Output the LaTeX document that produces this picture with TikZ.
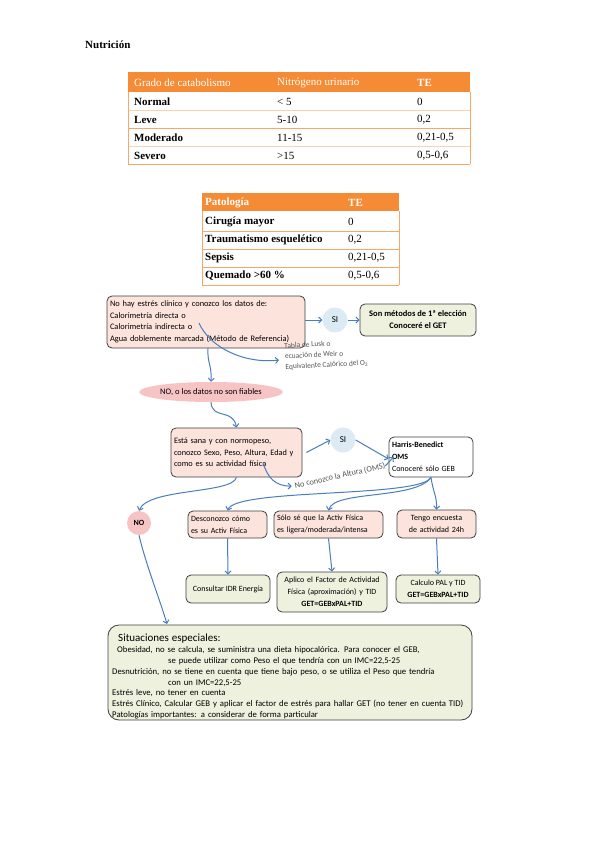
\documentclass[tikz,border=0pt]{standalone}
\usepackage{fontspec}
\setmainfont{Liberation Serif}
\newfontfamily\calfont{Carlito}
\usetikzlibrary{arrows.meta,shapes.geometric}
\definecolor{orangeH}{HTML}{F68B35}
\definecolor{orangeL}{HTML}{F7A766}
\definecolor{orangeF}{HTML}{FBD2B0}
\definecolor{pinkbox}{HTML}{FCE4DC}
\definecolor{pinkoval}{HTML}{F7C4C6}
\definecolor{sibg}{HTML}{DCEAF4}
\definecolor{greenbox}{HTML}{EEF1DD}
\definecolor{arrowblue}{HTML}{4A7EBB}
\definecolor{boxline}{HTML}{3F3F3F}
\definecolor{lblgray}{HTML}{555555}
\begin{document}
\begin{tikzpicture}[x=1pt,y=-1pt,
  tcell/.style={anchor=west, inner sep=0pt, font=\fontsize{11}{13}\selectfont},
  tbold/.style={tcell, font=\bfseries\fontsize{11}{13}\selectfont},
  thead/.style={tcell, text=white},
  flow/.style={draw=boxline, line width=0.8pt, rounded corners=5pt, inner sep=3pt,
    font=\calfont\fontsize{8}{12}\selectfont},
  sicirc/.style={circle, fill=sibg, minimum size=25pt, inner sep=0pt, font=\calfont\fontsize{9}{10}\selectfont},
  nocirc/.style={circle, fill=pinkoval, minimum size=24pt, inner sep=0pt, font=\calfont\bfseries\fontsize{8}{10}\selectfont},
  lbl/.style={inner sep=0pt, text=lblgray, font=\calfont\fontsize{7.5}{9.5}\selectfont},
  arr/.style={draw=arrowblue, line width=1pt, -{Straight Barb[length=3pt,width=6pt]}}]
\useasboundingbox[fill=white] (0,0) rectangle (599,848);

\node[anchor=west, inner sep=0pt, font=\bfseries\fontsize{11}{13}\selectfont] (title) at (85,45) {Nutrición};

% table 1
\fill[orangeH] (128,72) rectangle (470,92);
\draw[orangeF, line width=0.7pt] (128,110) -- (470,110) (128,146) -- (470,146);
\draw[orangeL, line width=0.7pt] (128,128) -- (470,128) (128,164) -- (470,164);
\draw[orangeL, line width=0.6pt] (128,92) -- (128,164) (470,92) -- (470,164);
\node[thead] (h11) at (134,83) {Grado de catabolismo};
\node[thead] (h12) at (277,83) {Nitrógeno urinario};
\node[thead, font=\bfseries\fontsize{11}{13}\selectfont] (h13) at (417,83) {TE};
\node[tbold] (r11) at (134,102) {Normal};
\node[tcell] (r12) at (277,102) {< 5};
\node[tcell] (r13) at (417,102) {0};
\node[tbold] (r21) at (134,120) {Leve};
\node[tcell] (r22) at (277,120) {5-10};
\node[tcell] (r23) at (417,120) {0,2};
\node[tbold] (r31) at (134,138) {Moderado};
\node[tcell] (r32) at (277,138) {11-15};
\node[tcell] (r33) at (417,138) {0,21-0,5};
\node[tbold] (r41) at (134,156) {Severo};
\node[tcell] (r42) at (277,156) {>15};
\node[tcell] (r43) at (417,156) {0,5-0,6};

% table 2
\fill[orangeH] (202,193) rectangle (399,211);
\draw[orangeL, line width=0.7pt] (202,231) -- (399,231) (202,249) -- (399,249) (202,267) -- (399,267) (202,285) -- (399,285);
\draw[orangeL, line width=0.6pt] (202,211) -- (202,285) (399,211) -- (399,285);
\node[thead, font=\bfseries\fontsize{11}{13}\selectfont] (p0) at (205,203) {Patología};
\node[thead, font=\bfseries\fontsize{11}{13}\selectfont] (p0v) at (348,203) {TE};
\node[tbold] (p1) at (205,222) {Cirugía mayor};
\node[tcell] (p1v) at (348,222) {0};
\node[tbold] (p2) at (205,240) {Traumatismo esquelético};
\node[tcell] (p2v) at (348,240) {0,2};
\node[tbold] (p3) at (205,258) {Sepsis};
\node[tcell] (p3v) at (348,258) {0,21-0,5};
\node[tbold] (p4) at (205,276) {Quemado >60 \%};
\node[tcell] (p4v) at (348,276) {0,5-0,6};

% flowchart
\node[flow, fill=pinkbox, minimum width=198pt, minimum height=52pt, text width=192pt, align=left,
  font=\calfont\fontsize{8.4}{11.5}\selectfont] (A) at (206,322)
  {No hay estrés clínico y conozco los datos de:\\Calorimetría directa o\\Calorimetría indirecta o\\Agua doblemente marcada (Método de Referencia)};
\node[sicirc] (si1) at (335,320) {SI};
\node[flow, fill=greenbox, minimum width=116pt, minimum height=32pt, align=center,
  font=\calfont\bfseries\fontsize{8.5}{12}\selectfont] (B) at (418,320)
  {Son métodos de 1ª elección\\Conoceré el GET};
\node[lbl, rotate=3, anchor=north west, align=left, font=\calfont\fontsize{7.5}{10.5}\selectfont] (lusk) at (284,343)
  {Tabla de Lusk o\\ecuación de Weir o\\Equivalente Calórico del O\textsubscript{2}};
\coordinate (a1) at (199,323);
\coordinate (luskin) at (279,360);
\node[ellipse, fill=pinkoval, minimum width=125pt, minimum height=20pt, inner sep=0pt,
  font=\calfont\fontsize{8.5}{10}\selectfont] (noe) at (211,392) {NO, o los datos no son fiables};
\node[flow, fill=pinkbox, minimum width=131pt, minimum height=49pt, text width=125pt, align=left,
  font=\calfont\fontsize{8.3}{11.5}\selectfont] (C) at (236.5,452.5)
  {Está sana y con normopeso,\\conozco Sexo, Peso, Altura, Edad y\\como es su actividad física};
\node[sicirc] (si2) at (343,440) {SI};
\node[flow, fill=white, minimum width=84pt, minimum height=40pt, text width=78pt, align=left] (D) at (431,457)
  {\textbf{Harris-Benedict}\\\textbf{OMS}\\Conoceré sólo GEB};
\node[lbl, rotate=12.6, font=\calfont\fontsize{8.3}{9}\selectfont] (oms) at (340,476) {No conozco la Altura (OMS)};
\coordinate (c1) at (263,463);
\node[nocirc] (no) at (139,523) {NO};
\node[flow, fill=pinkbox, minimum width=79pt, minimum height=27pt, text width=73pt, align=left] (E1) at (227.5,524.5)
  {Desconozco cómo\\es su Activ Física};
\node[flow, fill=pinkbox, minimum width=109pt, minimum height=27pt, text width=103pt, align=left] (E2) at (328.5,524.5)
  {Sólo sé que la Activ Física\\es ligera/moderada/intensa};
\node[flow, fill=pinkbox, minimum width=79pt, minimum height=28pt, text width=73pt, align=center] (E3) at (436.5,524)
  {Tengo encuesta\\de actividad 24h};
\node[flow, fill=greenbox, minimum width=84pt, minimum height=28pt, align=center] (F1) at (228,589)
  {Consultar IDR Energía};
\node[flow, fill=greenbox, minimum width=110pt, minimum height=40pt, text width=104pt, align=center] (F2) at (332,592)
  {Aplico el Factor de Actividad\\Física (aproximación) y TID\\\textbf{GET=GEBxPAL+TID}};
\node[flow, fill=greenbox, minimum width=84pt, minimum height=28pt, align=center] (F3) at (438,589)
  {Calculo PAL y TID\\\textbf{GET=GEBxPAL+TID}};
\node[flow, fill=greenbox, rounded corners=11pt, minimum width=364pt, minimum height=95pt] (S) at (290,672.5) {};
\node[anchor=north west, inner sep=0pt, text width=356pt, align=left,
  font=\calfont\fontsize{8.7}{10.8}\selectfont] (Stxt) at (112,634)
  {{\fontsize{11}{13}\selectfont\hspace*{6pt}Situaciones especiales:}\\
   \hspace*{5pt}\makebox[236pt][s]{Obesidad, no se calcula, se suministra una dieta hipocalórica. Para conocer el GEB,}\\
   \hspace*{56pt}se puede utilizar como Peso el que tendría con un IMC=22,5-25\\
   Desnutrición, no se tiene en cuenta que tiene bajo peso, o se utiliza el Peso que tendría\\
   \hspace*{56pt}con un IMC=22,5-25\\
   Estrés leve, no tener en cuenta\\
   Estrés Clínico, Calcular GEB y aplicar el factor de estrés para hallar GET (no tener en cuenta TID)\\
   Patologías importantes: a considerar de forma particular};
\coordinate (sin) at (167,624);

% connectors
\draw[arr] (A.east |- si1.west) -- (si1.west);
\draw[arr] (si1.east) -- (B.west |- si1.east);
\draw[arr] (a1) .. controls (210,348) and (245,364) .. (luskin);
\draw[arr] ([xshift=2pt]A.south) .. controls (207,362) and (212,366) .. (noe.north);
\draw[arr] (noe.south) .. controls (212,420) and (233,408) .. (C.north);
\draw[arr] ([xshift=4pt]C.east) -- (si2.west);
\draw[arr] (si2.east) -- ([yshift=-2pt]D.west);
\draw[arr] (c1) .. controls (268,478) and (275,486) .. ([xshift=-3pt]oms.west);
\draw[arr] (oms.east) -- ([xshift=5pt]D.west);
\draw[arr] (C.south) .. controls (232,494) and (148,488) .. (no.north);
\draw[arr] (D.south) .. controls (420,498) and (236,488) .. (E1.north);
\draw[arr] (D.south) .. controls (415,500) and (334,490) .. (E2.north);
\draw[arr] (D.south) .. controls (433,492) and (437,496) .. (E3.north);
\draw[arr] (E1.south) -- (F1.north);
\draw[arr] (E2.south) -- (F2.north);
\draw[arr] (E3.south) -- (F3.north);
\draw[arr] (no.south) .. controls (146,565) and (160,600) .. (sin);
\end{tikzpicture}
\end{document}
